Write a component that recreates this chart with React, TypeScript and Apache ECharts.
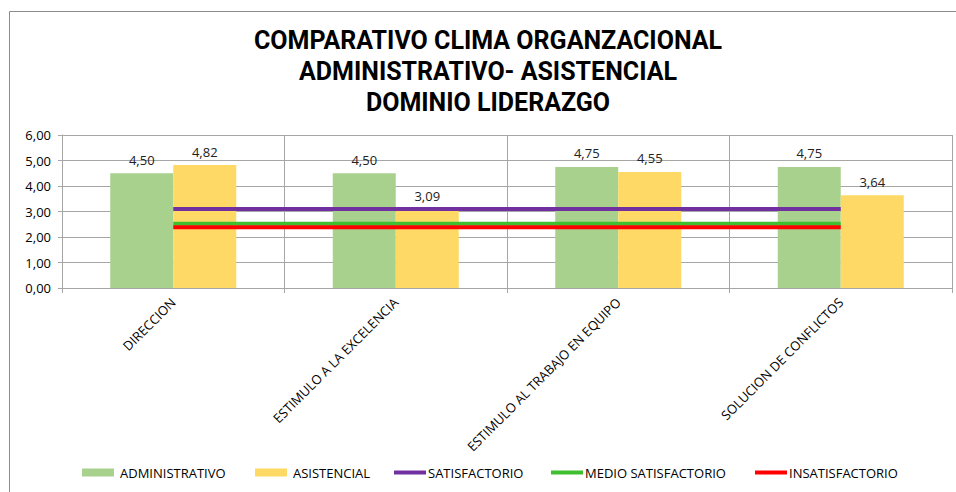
import React, { useEffect, useRef } from "react";
import * as echarts from "echarts";

const categories = ["DIRECCION", "ESTIMULO A LA EXCELENCIA", "ESTIMULO AL TRABAJO EN EQUIPO", "SOLUCION DE CONFLICTOS"];
const administrativo = [4.5, 4.5, 4.75, 4.75];
const asistencial = [4.82, 3.09, 4.55, 3.64];
const satisfactorio = [3.1, 3.1, 3.1, 3.1];
const medioSatisfactorio = [2.52, 2.52, 2.52, 2.52];
const insatisfactorio = [2.38, 2.38, 2.38, 2.38];
const titleLines = ["COMPARATIVO CLIMA ORGANZACIONAL", "ADMINISTRATIVO- ASISTENCIAL", "DOMINIO LIDERAZGO"];
const legendNames = ["ADMINISTRATIVO", "ASISTENCIAL", "SATISFACTORIO", "MEDIO SATISFACTORIO", "INSATISFACTORIO"];

const FONT = "'Open Sans', Roboto, sans-serif";
const TITLE_FONT = "Roboto, 'Open Sans', sans-serif";
const fmt = (v: number) => v.toFixed(2).replace(".", ",");
const LINE_ICON = "path://M0,0H32V4H0Z";
const legendLeft = [82, 255, 394, 551, 755];

export default function App() {
  const ref = useRef<HTMLDivElement>(null);
  useEffect(() => {
    if (!ref.current) return;
    const chart = echarts.init(ref.current, null, { renderer: "svg" });
    const lineSeries = (name: string, data: number[], color: string, z: number) => ({
      name,
      type: "line",
      data,
      symbol: "none",
      showSymbol: false,
      z,
      lineStyle: { color, width: 4 },
      itemStyle: { color },
    });
    const titleGraphics = titleLines.map((t, i) => ({
      type: "text",
      x: 488,
      y: 40 + i * 31,
      silent: true,
      style: {
        text: t,
        fontFamily: TITLE_FONT,
        fontWeight: "bold",
        fontSize: 25,
        fill: "#000",
        textAlign: "center",
        textVerticalAlign: "middle",
      },
    }));
    const legends = legendNames.map((n, i) => ({
      top: 466,
      left: legendLeft[i],
      padding: 0,
      itemWidth: 32,
      itemHeight: 8,
      textStyle: { fontFamily: FONT, fontSize: 13, color: "#000", padding: i < 2 ? [0, 0, 0, 1] : [0, 0, 0, -3] },
      data: [{ name: n, icon: i < 2 ? "rect" : LINE_ICON }],
    }));
    chart.setOption({
      animation: false,
      backgroundColor: "#ffffff",
      textStyle: { fontFamily: FONT },
      graphic: [
        {
          type: "rect",
          shape: { x: 9.5, y: 11.5, width: 960, height: 490 },
          style: { fill: "none", stroke: "#8c8c8c", lineWidth: 1 },
          silent: true,
        },
        ...titleGraphics,
      ],
      legend: legends,
      grid: { left: 62, right: 4, top: 135, bottom: 204, containLabel: false },
      xAxis: {
        type: "category",
        data: categories,
        axisLine: { lineStyle: { color: "#a6a6a6" } },
        axisTick: { show: true, length: 5, lineStyle: { color: "#a6a6a6" } },
        splitLine: { show: true, lineStyle: { color: "#a6a6a6" } },
        axisLabel: { rotate: 45, fontFamily: FONT, fontSize: 13, color: "#000", margin: 12, interval: 0 },
      },
      yAxis: {
        type: "value",
        min: 0,
        max: 6,
        interval: 1,
        axisLine: { show: true, lineStyle: { color: "#a6a6a6" } },
        axisTick: { show: true, length: 4, lineStyle: { color: "#a6a6a6" } },
        splitLine: { lineStyle: { color: "#a6a6a6" } },
        axisLabel: { formatter: (v: number) => fmt(v), fontFamily: FONT, fontSize: 13, color: "#000", margin: 11 },
      },
      series: [
        {
          name: "ADMINISTRATIVO",
          type: "bar",
          data: administrativo,
          barWidth: 63,
          barGap: "0%",
          itemStyle: { color: "#a9d18e" },
          label: { show: true, position: "top", formatter: (p: any) => fmt(p.value), fontFamily: FONT, fontSize: 13, color: "#222", distance: 7 },
        },
        {
          name: "ASISTENCIAL",
          type: "bar",
          data: asistencial,
          barWidth: 63,
          barGap: "0%",
          itemStyle: { color: "#ffd966" },
          label: { show: true, position: "top", formatter: (p: any) => fmt(p.value), fontFamily: FONT, fontSize: 13, color: "#222", distance: 7 },
        },
        lineSeries("SATISFACTORIO", satisfactorio, "#7030a0", 5),
        lineSeries("MEDIO SATISFACTORIO", medioSatisfactorio, "#3fbf2f", 5),
        lineSeries("INSATISFACTORIO", insatisfactorio, "#ff0000", 6),
      ],
    });
    return () => chart.dispose();
  }, []);
  return <div ref={ref} style={{ position: "fixed", left: 0, top: 0, width: 956, height: 492 }} />;
}
